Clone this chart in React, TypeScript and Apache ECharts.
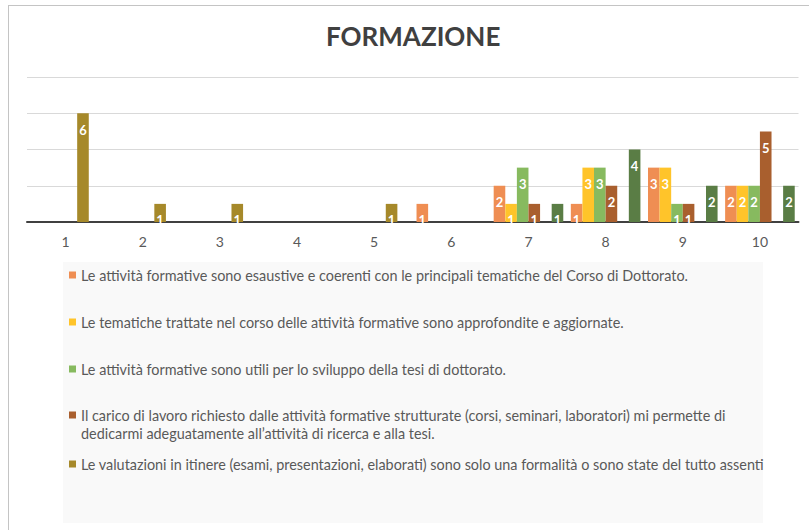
import React, { useEffect, useRef } from "react";
import * as echarts from "echarts";

const categories = ["1", "2", "3", "4", "5", "6", "7", "8", "9", "10"];

const seriesNames = [
  "Le attività formative sono esaustive e coerenti con le principali tematiche del Corso di Dottorato.",
  "Le tematiche trattate nel corso delle attività formative sono approfondite e aggiornate.",
  "Le attività formative sono utili per lo sviluppo della tesi di dottorato.",
  "Il carico di lavoro richiesto dalle attività formative strutturate (corsi, seminari, laboratori) mi permette di dedicarmi adeguatamente all’attività di ricerca e alla tesi.",
  "Le valutazioni in itinere (esami, presentazioni, elaborati) sono solo una formalità o sono state del tutto assenti",
  "Serie 6",
];

const esaustive = [0, 0, 0, 0, 0, 1, 2, 1, 3, 2];
const approfondite = [0, 0, 0, 0, 0, 0, 1, 3, 3, 2];
const utili = [0, 0, 0, 0, 0, 0, 3, 3, 1, 2];
const carico = [0, 0, 0, 0, 0, 0, 1, 2, 1, 5];
const valutazioni = [6, 1, 1, 0, 1, 0, 0, 0, 0, 0];
const serie6 = [0, 0, 0, 0, 0, 0, 1, 4, 2, 2];

const seriesValues = [esaustive, approfondite, utili, carico, valutazioni, serie6];
const colors = ["#EF8E53", "#FFC42A", "#87BA5F", "#A95F2E", "#A6892A", "#5A7D45"];

const FONT = "Lato, 'Open Sans', sans-serif";

export default function App() {
  const ref = useRef<HTMLDivElement>(null);

  useEffect(() => {
    if (!ref.current) return;
    const chart = echarts.init(ref.current, undefined, { renderer: "svg" });

    const legendRows = [275, 322, 369, 415, 464];
    const legends = seriesNames.slice(0, 5).map((name, i) => {
      const twoLine = i === 3;
      return {
        data: [name],
        orient: "vertical",
        left: 69,
        top: twoLine ? legendRows[i] - 27 : legendRows[i] - 9,
        padding: 0,
        itemWidth: 7,
        itemHeight: 7,
        icon: "rect",
        selectedMode: false,
        formatter: twoLine
          ? () =>
              " \nIl carico di lavoro richiesto dalle attività formative strutturate (corsi, seminari, laboratori) mi permette di\ndedicarmi adeguatamente all’attività di ricerca e alla tesi."
          : undefined,
        textStyle: {
          color: "#595959",
          fontSize: 14.4,
          fontFamily: FONT,
          lineHeight: 18,
        },
      };
    });

    chart.setOption({
      animation: false,
      color: colors,
      title: {
        text: "FORMAZIONE",
        left: 321,
        top: 18,
        textStyle: {
          color: "#404040",
          fontSize: 26,
          fontWeight: "bold",
          fontFamily: FONT,
        },
      },
      legend: legends,
      graphic: [
        {
          type: "rect",
          z: -10,
          shape: { x: 63, y: 262, width: 700, height: 261 },
          style: { fill: "#F9F9F9" },
          silent: true,
        },
        {
          type: "line",
          shape: { x1: 8, y1: 5.5, x2: 809, y2: 5.5 },
          style: { stroke: "#C4C4C4", lineWidth: 1 },
          silent: true,
        },
        {
          type: "line",
          shape: { x1: 8.5, y1: 5, x2: 8.5, y2: 530 },
          style: { stroke: "#C4C4C4", lineWidth: 1 },
          silent: true,
        },
      ],
      grid: { left: 27, right: 10.5, top: 77, bottom: 308, containLabel: false },
      xAxis: {
        type: "category",
        data: categories,
        axisLine: { lineStyle: { color: "#404040", width: 2 } },
        axisTick: { show: false },
        axisLabel: { color: "#595959", fontSize: 14, fontFamily: FONT, margin: 12 },
      },
      yAxis: {
        type: "value",
        min: 0,
        max: 8,
        interval: 2,
        axisLine: { show: false },
        axisTick: { show: false },
        axisLabel: { show: false },
        splitLine: { lineStyle: { color: "#D9D9D9", width: 1 } },
      },
      series: seriesValues.map((vals, i) => ({
        name: seriesNames[i],
        type: "bar",
        data: vals,
        barWidth: 11.6,
        barGap: "0%",
        itemStyle: { color: colors[i] },
        label: {
          show: true,
          position: "insideTop",
          distance: 10,
          color: "#FFFFFF",
          fontSize: 13,
          fontWeight: "bold",
          fontFamily: FONT,
          formatter: (p: any) => (p.value ? String(p.value) : ""),
        },
      })),
    });

    return () => chart.dispose();
  }, []);

  return (
    <div
      ref={ref}
      style={{ position: "absolute", left: 0, top: 0, width: 809, height: 530, background: "#FFFFFF" }}
    />
  );
}
